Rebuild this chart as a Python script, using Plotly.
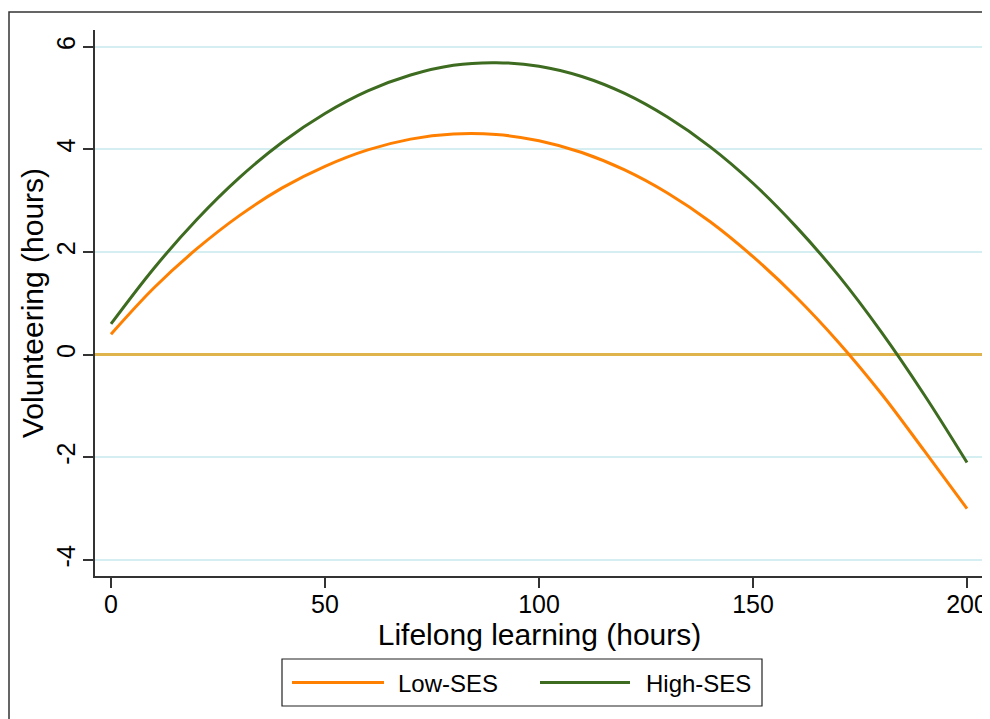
import plotly.graph_objects as go

# Data
hours = [0, 10, 20, 30, 40, 50, 60, 70, 80, 90, 100,
         110, 120, 130, 140, 150, 160, 170, 180, 190, 200]
low_ses = [0.40, 1.30, 2.06, 2.71, 3.25, 3.67, 3.99, 4.20, 4.30, 4.29, 4.17,
           3.94, 3.60, 3.15, 2.59, 1.91, 1.13, 0.24, -0.76, -1.87, -3.00]
high_ses = [0.60, 1.68, 2.63, 3.45, 4.14, 4.70, 5.14, 5.45, 5.64, 5.69, 5.62,
            5.42, 5.09, 4.63, 4.05, 3.34, 2.50, 1.54, 0.44, -0.78, -2.10]
x_ticks = [0, 50, 100, 150, 200]
x_tick_labels = ["0", "50", "100", "150", "200"]
y_ticks = [-4, -2, 0, 2, 4, 6]
y_tick_labels = ["-4", "-2", "0", "2", "4", "6"]
series_names = ["Low-SES", "High-SES"]

FONT = "Liberation Sans, Arial, Helvetica, sans-serif"
ORANGE = "#ff8000"
GREEN = "#3d6b1f"

# page body has an 8px margin, so figure pixel = screen pixel - 8
W, H = 982, 711
L, R, T, B = 87, 6, 22, 143
PW, PH = W - L - R, H - T - B
OFF = 8


def px(sx):
    return (sx - OFF - L) / PW


def py(sy):
    return (H - B - (sy - OFF)) / PH


fig = go.Figure()
for name, vals, col in [(series_names[0], low_ses, ORANGE), (series_names[1], high_ses, GREEN)]:
    fig.add_trace(go.Scatter(x=hours, y=vals, mode="lines", name=name, showlegend=False,
                             line=dict(color=col, width=3, shape="spline")))

shapes = [
    # outer frame
    dict(type="rect", xref="paper", yref="paper",
         x0=px(9), x1=px(1100), y0=py(800), y1=py(12),
         line=dict(color="#333", width=1.5), fillcolor="rgba(0,0,0,0)", layer="below"),
    # legend box
    dict(type="rect", xref="paper", yref="paper",
         x0=px(282), x1=px(762), y0=py(706), y1=py(659),
         line=dict(color="#222", width=1.2), fillcolor="white"),
    dict(type="line", xref="paper", yref="paper",
         x0=px(292), x1=px(384), y0=py(682.5), y1=py(682.5),
         line=dict(color=ORANGE, width=3)),
    dict(type="line", xref="paper", yref="paper",
         x0=px(540), x1=px(630), y0=py(682.5), y1=py(682.5),
         line=dict(color=GREEN, width=3)),
]
annotations = [
    dict(text=series_names[0], xref="paper", yref="paper", x=px(396), y=py(683),
         xanchor="left", yanchor="middle", showarrow=False, font=dict(size=24)),
    dict(text=series_names[1], xref="paper", yref="paper", x=px(644), y=py(683),
         xanchor="left", yanchor="middle", showarrow=False, font=dict(size=24)),
]

fig.update_layout(
    width=W, height=H,
    paper_bgcolor="white", plot_bgcolor="white",
    margin=dict(l=L, r=R, t=T, b=B, autoexpand=False),
    font=dict(family=FONT, size=25, color="black"),
    showlegend=False,
    xaxis=dict(range=[-3.74, 203.97], tickvals=x_ticks, ticktext=x_tick_labels,
               showgrid=False, zeroline=False, automargin=False,
               showline=True, linecolor="#333", linewidth=1.5,
               ticks="outside", ticklen=10, tickwidth=1.5, tickcolor="#333",
               ticklabelstandoff=-5,
               title=dict(text="Lifelong learning (hours)", standoff=2),
               tickfont=dict(size=25)),
    yaxis=dict(range=[-4.311, 6.326], tickvals=y_ticks, ticktext=y_tick_labels,
               showgrid=True, automargin=False,
               gridcolor="#d4eef2", gridwidth=1.5,
               zeroline=True, zerolinecolor="#e0b44c", zerolinewidth=3,
               showline=True, linecolor="#333", linewidth=1.5,
               ticks="outside", ticklen=10, tickwidth=1.5, tickcolor="#333",
               ticklabelstandoff=-2,
               tickangle=-90, tickfont=dict(size=25),
               title=dict(text="Volunteering (hours)", standoff=0)),
    shapes=shapes,
    annotations=annotations,
)

fig.write_html("out.html")
